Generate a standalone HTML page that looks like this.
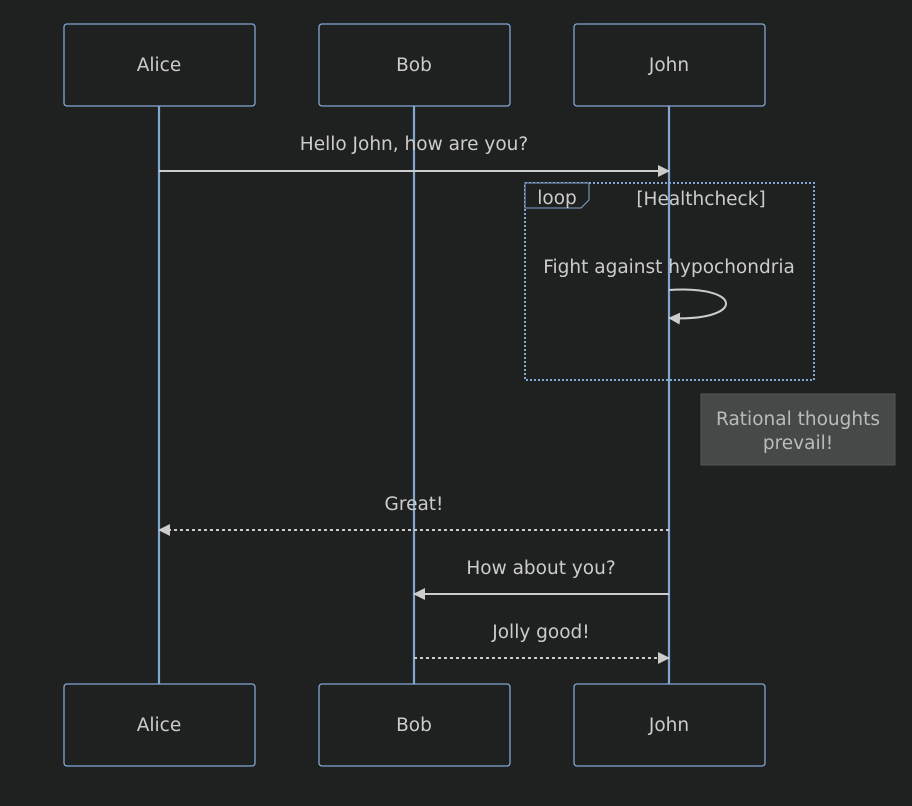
<!DOCTYPE html>
<html><head><meta charset="utf-8"><style>
html,body{margin:0;padding:0;background:#1f2020;}
svg{display:block}
text{font-family:"DejaVu Sans","Liberation Sans",sans-serif;font-size:18.5px;fill:#ccc;}
</style></head><body>
<svg width="912" height="806" viewBox="0 0 912 806" xmlns="http://www.w3.org/2000/svg">
<rect width="912" height="806" fill="#1f2020"/>
<defs>
<marker id="a" markerWidth="12" markerHeight="12" refX="11" refY="6" orient="auto" markerUnits="userSpaceOnUse"><path d="M0,0 L12,6 L0,12 z" fill="#ccc"/></marker>
</defs>
<g stroke="#81a6d1" stroke-width="2.2">
<line x1="159" y1="106" x2="159" y2="684"/>
<line x1="414" y1="106" x2="414" y2="684"/>
<line x1="669" y1="106" x2="669" y2="684"/>
</g>
<g stroke="#81a6d1" stroke-width="1.3" fill="#1f2020">
<rect x="64" y="24" width="191" height="82" rx="3"/>
<rect x="319" y="24" width="191" height="82" rx="3"/>
<rect x="574" y="24" width="191" height="82" rx="3"/>
<rect x="64" y="684" width="191" height="82" rx="3"/>
<rect x="319" y="684" width="191" height="82" rx="3"/>
<rect x="574" y="684" width="191" height="82" rx="3"/>
</g>
<g text-anchor="middle">
<text x="159" y="71">Alice</text><text x="414" y="71">Bob</text><text x="669" y="71">John</text>
<text x="159" y="731">Alice</text><text x="414" y="731">Bob</text><text x="669" y="731">John</text>
</g>
<text x="414" y="150" text-anchor="middle">Hello John, how are you?</text>
<line x1="159" y1="171" x2="669" y2="171" stroke="#ccc" stroke-width="2" marker-end="url(#a)"/>
<rect x="525" y="183" width="289" height="197" fill="none" stroke="#81a6d1" stroke-width="2" stroke-dasharray="2,2"/>
<path d="M525,183 H589 V200 L581,208 H525 Z" fill="#1f2020" stroke="#81a6d1" stroke-width="1"/>
<text x="557" y="204" text-anchor="middle">loop</text>
<text x="701" y="205" text-anchor="middle">[Healthcheck]</text>
<text x="669" y="273" text-anchor="middle">Fight against hypochondria</text>
<path d="M669,290 C745,285 745,322 669,318" fill="none" stroke="#ccc" stroke-width="2" marker-end="url(#a)"/>
<rect x="701" y="394" width="194" height="71" fill="#474949" stroke="#555" stroke-width="1"/>
<text x="798" y="425" text-anchor="middle" style="fill:#bbb">Rational thoughts</text>
<text x="798" y="449" text-anchor="middle" style="fill:#bbb">prevail!</text>
<text x="414" y="510" text-anchor="middle">Great!</text>
<line x1="669" y1="530" x2="159" y2="530" stroke="#ccc" stroke-width="2" stroke-dasharray="3,3" marker-end="url(#a)"/>
<text x="541" y="574" text-anchor="middle">How about you?</text>
<line x1="669" y1="594" x2="414" y2="594" stroke="#ccc" stroke-width="2" marker-end="url(#a)"/>
<text x="541" y="638" text-anchor="middle">Jolly good!</text>
<line x1="414" y1="658" x2="669" y2="658" stroke="#ccc" stroke-width="2" stroke-dasharray="3,3" marker-end="url(#a)"/>
</svg>
</body></html>
